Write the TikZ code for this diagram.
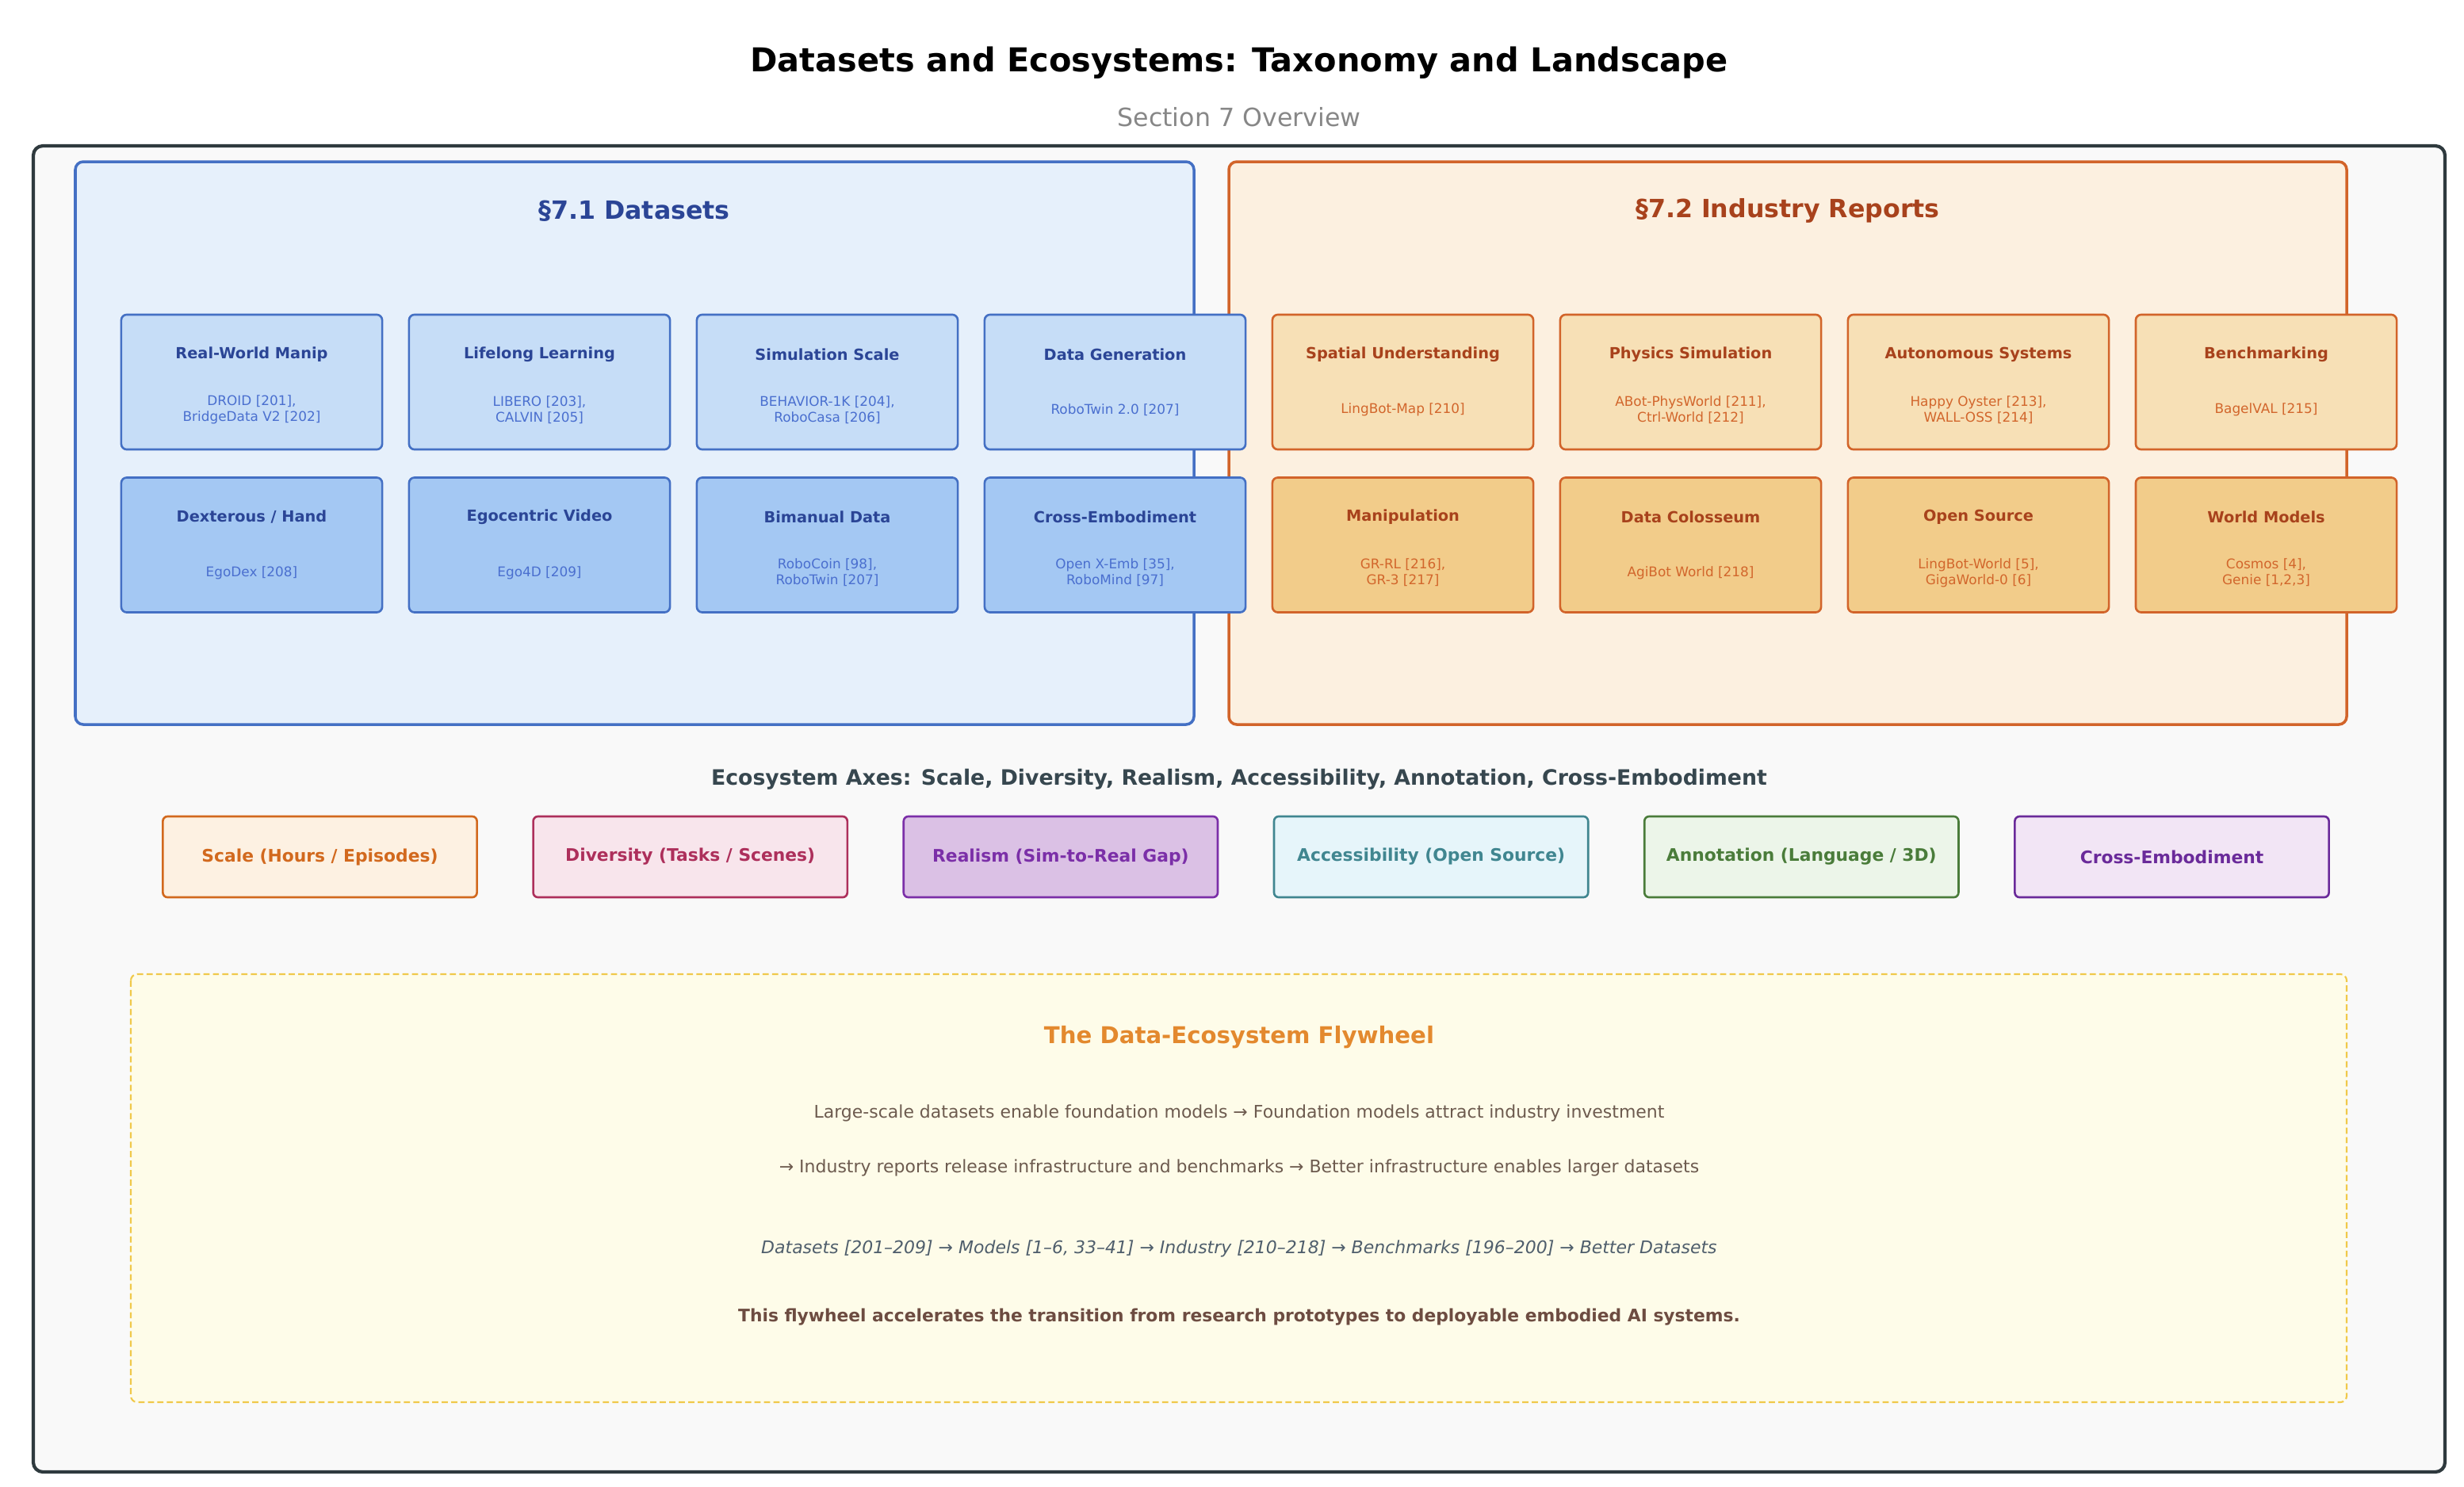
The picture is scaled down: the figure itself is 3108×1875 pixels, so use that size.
\documentclass[tikz,border=0pt]{standalone}
\usepackage{fontspec}
\setmainfont{DejaVu Sans}
\usetikzlibrary{positioning}

\definecolor{outerfill}{HTML}{F9F9F9}
\definecolor{outerline}{HTML}{2F3A3E}
\definecolor{dsfill}{HTML}{E6F0FB}
\definecolor{dsline}{HTML}{4470C4}
\definecolor{dstext}{HTML}{2B4596}
\definecolor{dsboxa}{HTML}{C6DDF7}
\definecolor{dsboxb}{HTML}{A4C8F3}
\definecolor{dsref}{HTML}{4A6FCF}
\definecolor{irfill}{HTML}{FCF0E0}
\definecolor{irline}{HTML}{D2642A}
\definecolor{irtext}{HTML}{A8421C}
\definecolor{irboxa}{HTML}{F7E0B6}
\definecolor{irboxb}{HTML}{F2CC8A}
\definecolor{irref}{HTML}{D2662C}
\definecolor{axscaleline}{HTML}{D2691E}
\definecolor{axscalefill}{HTML}{FDF1E2}
\definecolor{axdivline}{HTML}{AD2F5B}
\definecolor{axdivfill}{HTML}{F8E5EC}
\definecolor{axrealline}{HTML}{7B2FA8}
\definecolor{axrealfill}{HTML}{DBC1E5}
\definecolor{axaccline}{HTML}{408690}
\definecolor{axaccfill}{HTML}{E6F5FA}
\definecolor{axannline}{HTML}{4A7C3A}
\definecolor{axannfill}{HTML}{ECF5E9}
\definecolor{axcrossline}{HTML}{6A2A9A}
\definecolor{axcrossfill}{HTML}{F2E5F5}
\definecolor{heading}{HTML}{37474F}
\definecolor{flyline}{HTML}{F0C94A}
\definecolor{flyfill}{HTML}{FEFCE9}
\definecolor{flytitle}{HTML}{E3892E}
\definecolor{flybody}{HTML}{6D5B4F}
\definecolor{flyslate}{HTML}{4F5E6C}
\definecolor{flybold}{HTML}{6D4C41}

\begin{document}
\begin{tikzpicture}[
    x=0.01cm, y=-0.01cm,
    outer/.style={draw=outerline, fill=outerfill, line width=1.2pt, rounded corners=0.12cm},
    dspanel/.style={draw=dsline, fill=dsfill, line width=1pt, rounded corners=0.1cm},
    irpanel/.style={draw=irline, fill=irfill, line width=1pt, rounded corners=0.1cm},
    cat/.style={line width=0.75pt, rounded corners=0.07cm, minimum width=3.29cm, minimum height=1.7cm, inner sep=0pt},
    dsa/.style={cat, draw=dsline, fill=dsboxa},
    dsb/.style={cat, draw=dsline, fill=dsboxb},
    ira/.style={cat, draw=irline, fill=irboxa},
    irb/.style={cat, draw=irline, fill=irboxb},
    cattitle/.style={font=\bfseries\fontsize{5.5}{6.6}\selectfont, inner sep=0pt},
    catref/.style={font=\fontsize{4.8}{5.7}\selectfont, align=center, inner sep=0pt},
    axis/.style={line width=0.75pt, rounded corners=0.06cm, minimum width=3.96cm, minimum height=1.02cm, inner sep=0pt, font=\bfseries\fontsize{6.2}{7.4}\selectfont},
    flytext/.style={font=\fontsize{6.25}{7.5}\selectfont, inner sep=0pt, text=flybody}
]
    \useasboundingbox[fill=white] (0,0) rectangle (3108,1875);

    % titles
    \node[font=\bfseries\fontsize{11.8}{14}\selectfont] (title) at (1563,79) {Datasets and Ecosystems: Taxonomy and Landscape};
    \node[font=\fontsize{9}{11}\selectfont, text=black!47] (subtitle) at (1563,148) {Section 7 Overview};

    % containers
    \draw[outer] (42,184) rectangle (3084,1857);
    \draw[dspanel] (95,204) rectangle (1506,914);
    \draw[irpanel] (1550,204) rectangle (2960,914);
    \node[font=\bfseries\fontsize{9}{11}\selectfont, text=dstext] (dshead) at (800,266) {§7.1 Datasets};
    \node[font=\bfseries\fontsize{9}{11}\selectfont, text=irtext] (irhead) at (2255,266) {§7.2 Industry Reports};

    % §7.1 row 1
    \node[dsa] (rwm) at (317.5,482) {};
    \node[cattitle, text=dstext] (rwm-t) at ([yshift=0.35cm]rwm.center) {Real-World Manip};
    \node[catref, text=dsref] (rwm-r) at ([yshift=-0.35cm]rwm.center) {DROID [201],\\BridgeData V2 [202]};
    \node[dsa] (lifelong) at (680.5,482) {};
    \node[cattitle, text=dstext] (lifelong-t) at ([yshift=0.35cm]lifelong.center) {Lifelong Learning};
    \node[catref, text=dsref] (lifelong-r) at ([yshift=-0.35cm]lifelong.center) {LIBERO [203],\\CALVIN [205]};
    \node[dsa] (simscale) at (1043.5,482) {};
    \node[cattitle, text=dstext] (simscale-t) at ([yshift=0.35cm]simscale.center) {Simulation Scale};
    \node[catref, text=dsref] (simscale-r) at ([yshift=-0.35cm]simscale.center) {BEHAVIOR-1K [204],\\RoboCasa [206]};
    \node[dsa] (datagen) at (1406.5,482) {};
    \node[cattitle, text=dstext] (datagen-t) at ([yshift=0.35cm]datagen.center) {Data Generation};
    \node[catref, text=dsref] (datagen-r) at ([yshift=-0.35cm]datagen.center) {RoboTwin 2.0 [207]};

    % §7.1 row 2
    \node[dsb] (dexhand) at (317.5,687.5) {};
    \node[cattitle, text=dstext] (dexhand-t) at ([yshift=0.35cm]dexhand.center) {Dexterous / Hand};
    \node[catref, text=dsref] (dexhand-r) at ([yshift=-0.35cm]dexhand.center) {EgoDex [208]};
    \node[dsb] (egovideo) at (680.5,687.5) {};
    \node[cattitle, text=dstext] (egovideo-t) at ([yshift=0.35cm]egovideo.center) {Egocentric Video};
    \node[catref, text=dsref] (egovideo-r) at ([yshift=-0.35cm]egovideo.center) {Ego4D [209]};
    \node[dsb] (bimanual) at (1043.5,687.5) {};
    \node[cattitle, text=dstext] (bimanual-t) at ([yshift=0.35cm]bimanual.center) {Bimanual Data};
    \node[catref, text=dsref] (bimanual-r) at ([yshift=-0.35cm]bimanual.center) {RoboCoin [98],\\RoboTwin [207]};
    \node[dsb] (crossemb) at (1406.5,687.5) {};
    \node[cattitle, text=dstext] (crossemb-t) at ([yshift=0.35cm]crossemb.center) {Cross-Embodiment};
    \node[catref, text=dsref] (crossemb-r) at ([yshift=-0.35cm]crossemb.center) {Open X-Emb [35],\\RoboMind [97]};

    % §7.2 row 1
    \node[ira] (spatial) at (1769.5,482) {};
    \node[cattitle, text=irtext] (spatial-t) at ([yshift=0.35cm]spatial.center) {Spatial Understanding};
    \node[catref, text=irref] (spatial-r) at ([yshift=-0.35cm]spatial.center) {LingBot-Map [210]};
    \node[ira] (physim) at (2132.5,482) {};
    \node[cattitle, text=irtext] (physim-t) at ([yshift=0.35cm]physim.center) {Physics Simulation};
    \node[catref, text=irref] (physim-r) at ([yshift=-0.35cm]physim.center) {ABot-PhysWorld [211],\\Ctrl-World [212]};
    \node[ira] (autosys) at (2495.5,482) {};
    \node[cattitle, text=irtext] (autosys-t) at ([yshift=0.35cm]autosys.center) {Autonomous Systems};
    \node[catref, text=irref] (autosys-r) at ([yshift=-0.35cm]autosys.center) {Happy Oyster [213],\\WALL-OSS [214]};
    \node[ira] (bench) at (2858.5,482) {};
    \node[cattitle, text=irtext] (bench-t) at ([yshift=0.35cm]bench.center) {Benchmarking};
    \node[catref, text=irref] (bench-r) at ([yshift=-0.35cm]bench.center) {BagelVAL [215]};

    % §7.2 row 2
    \node[irb] (manip) at (1769.5,687.5) {};
    \node[cattitle, text=irtext] (manip-t) at ([yshift=0.35cm]manip.center) {Manipulation};
    \node[catref, text=irref] (manip-r) at ([yshift=-0.35cm]manip.center) {GR-RL [216],\\GR-3 [217]};
    \node[irb] (colosseum) at (2132.5,687.5) {};
    \node[cattitle, text=irtext] (colosseum-t) at ([yshift=0.35cm]colosseum.center) {Data Colosseum};
    \node[catref, text=irref] (colosseum-r) at ([yshift=-0.35cm]colosseum.center) {AgiBot World [218]};
    \node[irb] (opensrc) at (2495.5,687.5) {};
    \node[cattitle, text=irtext] (opensrc-t) at ([yshift=0.35cm]opensrc.center) {Open Source};
    \node[catref, text=irref] (opensrc-r) at ([yshift=-0.35cm]opensrc.center) {LingBot-World [5],\\GigaWorld-0 [6]};
    \node[irb] (worldmod) at (2858.5,687.5) {};
    \node[cattitle, text=irtext] (worldmod-t) at ([yshift=0.35cm]worldmod.center) {World Models};
    \node[catref, text=irref] (worldmod-r) at ([yshift=-0.35cm]worldmod.center) {Cosmos [4],\\Genie [1,2,3]};

    % ecosystem axes
    \node[font=\bfseries\fontsize{7.6}{9}\selectfont, text=heading] (axhead) at (1563,983) {Ecosystem Axes: Scale, Diversity, Realism, Accessibility, Annotation, Cross-Embodiment};
    \node[axis, draw=axscaleline, fill=axscalefill, text=axscaleline] (axscale) at (403.5,1081) {Scale (Hours / Episodes)};
    \node[axis, draw=axdivline, fill=axdivfill, text=axdivline] (axdiv) at (870.7,1081) {Diversity (Tasks / Scenes)};
    \node[axis, draw=axrealline, fill=axrealfill, text=axrealline] (axreal) at (1337.9,1081) {Realism (Sim-to-Real Gap)};
    \node[axis, draw=axaccline, fill=axaccfill, text=axaccline] (axacc) at (1805.1,1081) {Accessibility (Open Source)};
    \node[axis, draw=axannline, fill=axannfill, text=axannline] (axann) at (2272.3,1081) {Annotation (Language / 3D)};
    \node[axis, draw=axcrossline, fill=axcrossfill, text=axcrossline] (axcross) at (2739.5,1081) {Cross-Embodiment};

    % flywheel
    \draw[draw=flyline, fill=flyfill, line width=0.6pt, dash pattern=on 2.2pt off 1.2pt, rounded corners=0.08cm] (165,1229) rectangle (2960,1769);
    \node[font=\bfseries\fontsize{8.3}{10}\selectfont, text=flytitle] (flyhead) at (1563,1309) {The Data-Ecosystem Flywheel};
    \node[flytext] (fly1) at (1563,1404) {Large-scale datasets enable foundation models → Foundation models attract industry investment};
    \node[flytext] (fly2) at (1563,1473) {→ Industry reports release infrastructure and benchmarks → Better infrastructure enables larger datasets};
    \node[flytext, font=\itshape\fontsize{6.25}{7.5}\selectfont, text=flyslate] (fly3) at (1563,1575) {Datasets [201–209] → Models [1–6, 33–41] → Industry [210–218] → Benchmarks [196–200] → Better Datasets};
    \node[flytext, font=\bfseries\fontsize{6.2}{7.5}\selectfont, text=flybold] (fly4) at (1563,1662) {This flywheel accelerates the transition from research prototypes to deployable embodied AI systems.};
\end{tikzpicture}
\end{document}
